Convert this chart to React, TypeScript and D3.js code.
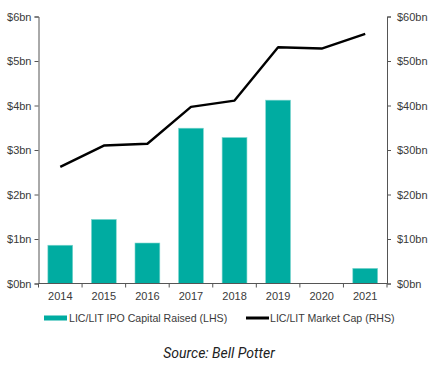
import * as d3 from 'd3';
import { useEffect, useRef } from 'react';

const years = ['2014', '2015', '2016', '2017', '2018', '2019', '2020', '2021'];
const ipoCapital = [0.86, 1.44, 0.91, 3.49, 3.28, 4.12, 0, 0.34]; // $bn, LHS
const marketCap = [26.2, 31.0, 31.4, 39.7, 41.1, 53.1, 52.8, 56.1]; // $bn, RHS
const leftTicks = [0, 1, 2, 3, 4, 5, 6];
const rightTicks = [0, 10, 20, 30, 40, 50, 60];

const App = () => {
  const ref = useRef<SVGSVGElement | null>(null);

  useEffect(() => {
    const width = 434;
    const height = 365;
    const svg = d3.select(ref.current).attr('width', width).attr('height', height);
    svg.selectAll('*').remove();

    const font = '"Liberation Sans", Arial, sans-serif';
    const teal = '#00aca1';
    const axisColor = '#555';
    const textColor = '#3a3a3a';

    const x = d3.scaleBand().domain(years).range([38.5, 387]).paddingInner(0.43).paddingOuter(0.215);
    const yL = d3.scaleLinear().domain([0, 6]).range([283.5, 16.5]);
    const yR = d3.scaleLinear().domain([0, 60]).range([283.5, 16.5]);

    // bars
    svg
      .append('g')
      .selectAll('rect')
      .data(years)
      .join('rect')
      .attr('x', (d) => x(d)!)
      .attr('width', x.bandwidth())
      .attr('y', (_, i) => yL(ipoCapital[i]))
      .attr('height', (_, i) => yL(0) - yL(ipoCapital[i]))
      .attr('fill', teal)
      .attr('stroke', '#7fd6cf')
      .attr('stroke-width', 0.6);

    // line
    const line = d3
      .line<number>()
      .x((_, i) => x(years[i])! + x.bandwidth() / 2)
      .y((d) => yR(d));
    svg
      .append('path')
      .attr('d', line(marketCap))
      .attr('fill', 'none')
      .attr('stroke', '#000')
      .attr('stroke-width', 2.4)
      .attr('stroke-linejoin', 'round');

    // left axis
    const left = svg
      .append('g')
      .attr('transform', 'translate(38.5,0)')
      .call(
        d3
          .axisLeft(yL)
          .tickValues(leftTicks)
          .tickSize(4)
          .tickPadding(3)
          .tickFormat((d) => `$${d}bn`)
      );

    // right axis
    const right = svg
      .append('g')
      .attr('transform', 'translate(387,0)')
      .call(
        d3
          .axisRight(yR)
          .tickValues(rightTicks)
          .tickSize(4)
          .tickPadding(6)
          .tickFormat((d) => `$${d}bn`)
      );

    // bottom axis, ticks sit between categories
    const bottom = svg.append('g').attr('transform', 'translate(0,283.5)');
    bottom
      .append('line')
      .attr('x1', 38.5)
      .attr('x2', 387)
      .attr('stroke', axisColor)
      .attr('stroke-width', 1);
    const bounds = d3.range(years.length + 1).map((i) => 38.5 + x.step() * i);
    bottom
      .selectAll('line.tick')
      .data(bounds)
      .join('line')
      .attr('class', 'tick')
      .attr('x1', (d) => d)
      .attr('x2', (d) => d)
      .attr('y1', 0)
      .attr('y2', 4)
      .attr('stroke', axisColor);
    bottom
      .selectAll('text')
      .data(years)
      .join('text')
      .attr('x', (d) => x(d)! + x.bandwidth() / 2)
      .attr('y', 16)
      .attr('text-anchor', 'middle')
      .attr('font-family', font)
      .attr('font-size', 11)
      .attr('fill', textColor)
      .text((d) => d);

    [left, right].forEach((g) => {
      g.select('.domain').attr('stroke', axisColor);
      g.selectAll('.tick line').attr('stroke', axisColor);
      g.selectAll('.tick text').attr('font-family', font).attr('font-size', 11).attr('fill', textColor);
    });

    // legend
    const legend = svg.append('g').attr('font-family', font).attr('font-size', 10.6).attr('fill', textColor);
    legend.append('rect').attr('x', 44).attr('y', 315.5).attr('width', 23).attr('height', 5).attr('fill', teal);
    legend.append('text').attr('x', 69).attr('y', 322).text('LIC/LIT IPO Capital Raised (LHS)');
    legend
      .append('line')
      .attr('x1', 246)
      .attr('x2', 269)
      .attr('y1', 318)
      .attr('y2', 318)
      .attr('stroke', '#000')
      .attr('stroke-width', 3);
    legend.append('text').attr('x', 270).attr('y', 322).text('LIC/LIT Market Cap (RHS)');

    // source
    svg
      .append('text')
      .attr('x', 219)
      .attr('y', 358)
      .attr('text-anchor', 'middle')
      .attr('font-family', '"Roboto", "Liberation Sans", sans-serif')
      .attr('font-style', 'italic')
      .attr('font-size', 14)
      .attr('fill', '#222')
      .text('Source: Bell Potter');
  }, []);

  return <svg ref={ref} style={{ position: 'absolute', left: 0, top: 0 }}></svg>;
};

export default App;
